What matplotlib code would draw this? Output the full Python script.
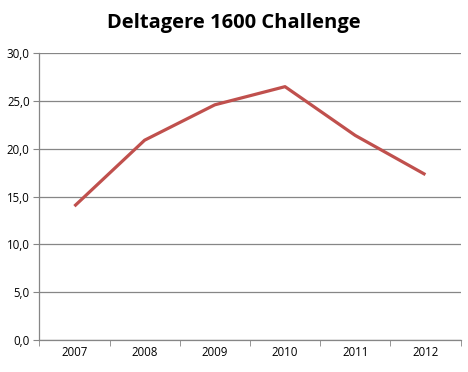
import numpy as np
import matplotlib.pyplot as plt
from matplotlib.ticker import FuncFormatter, MultipleLocator

years = ['2007', '2008', '2009', '2010', '2011', '2012']
deltagere = [14.0, 20.9, 24.6, 26.5, 21.4, 17.3]

plt.rcParams['font.family'] = ['Open Sans', 'DejaVu Sans']

fig = plt.figure(figsize=(4.68, 3.72), dpi=100)
ax = fig.add_axes([0.084, 0.086, 0.9, 0.771])

x = np.arange(len(years))
ax.plot(x, deltagere, color='#C0504D', lw=2.3, solid_capstyle='butt')

ax.set_xlim(-0.5, len(years) - 0.5)
ax.set_ylim(0, 30)
ax.yaxis.set_major_locator(MultipleLocator(5))
ax.yaxis.set_major_formatter(FuncFormatter(lambda v, p: f'{v:.1f}'.replace('.', ',')))
ax.set_xticks(x)
ax.set_xticklabels(years)
ax.set_xticks(np.arange(len(years) + 1) - 0.5, minor=True)

ax.grid(axis='y', color='#868686', lw=0.9)
ax.set_axisbelow(True)
for s in ['top', 'right']:
    ax.spines[s].set_visible(False)
for s in ['left', 'bottom']:
    ax.spines[s].set_color('#868686')
    ax.spines[s].set_linewidth(0.9)

ax.tick_params(axis='y', length=4, color='#868686', labelsize=8.3, pad=3)
ax.tick_params(axis='x', which='major', length=0, labelsize=8.3, pad=4)
ax.tick_params(axis='x', which='minor', length=4, color='#868686')

fig.text(0.5, 0.938, 'Deltagere 1600 Challenge', ha='center', va='center',
         fontsize=14.5, fontweight='bold')

fig.savefig('out.png', dpi=100)
